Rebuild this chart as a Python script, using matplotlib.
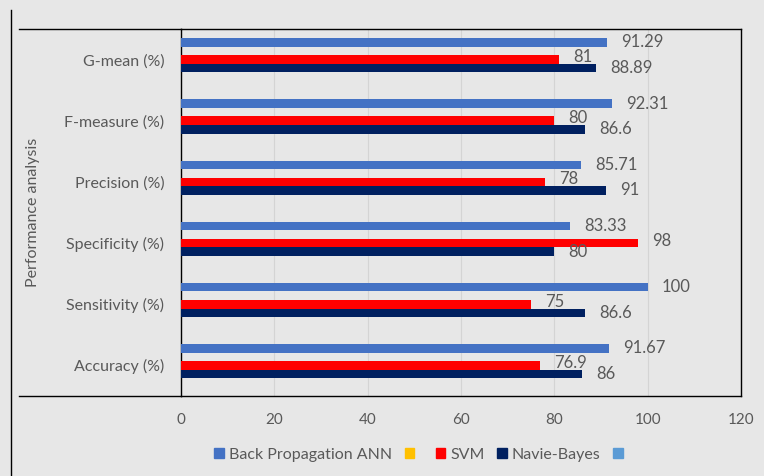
import matplotlib.pyplot as plt
import numpy as np
from matplotlib.lines import Line2D
from matplotlib.patches import Patch

plt.rcParams['font.family'] = ['Lato', 'DejaVu Sans']

categories = ['Accuracy (%)', 'Sensitivity (%)', 'Specificity (%)',
              'Precision (%)', 'F-measure (%)', 'G-mean (%)']
ann = [91.67, 100, 83.33, 85.71, 92.31, 91.29]
svm = [76.9, 75, 98, 78, 80, 81]
nb = [86, 86.6, 80, 91, 86.6, 88.89]
ann_lbl = ['91.67', '100', '83.33', '85.71', '92.31', '91.29']
svm_lbl = ['76.9', '75', '98', '78', '80', '81']
nb_lbl = ['86', '86.6', '80', '91', '86.6', '88.89']
xticks = [0, 20, 40, 60, 80, 100, 120]

bg = '#E7E7E7'
txt = '#595959'
c_ann = '#4472C4'
c_gold = '#FFC000'
c_svm = '#FF0000'
c_nb = '#002060'
c_lb = '#5B9BD5'

fig = plt.figure(figsize=(7.64, 4.76), dpi=100, facecolor=bg)
ax = fig.add_axes([181 / 764, 1 - 396 / 476, 560 / 764, 367 / 476])
ax.set_facecolor(bg)

y = np.arange(len(categories))
h = 0.14
# five slots per group, the gold and light-blue series are empty
ax.barh(y + 2 * h, ann, height=h, color=c_ann, zorder=3)
ax.barh(y, svm, height=h, color=c_svm, zorder=3)
ax.barh(y - h, nb, height=h, color=c_nb, zorder=3)

for i in range(len(categories)):
    ax.text(ann[i] + 3, y[i] + 2 * h, ann_lbl[i], va='center', ha='left',
            fontsize=12, color=txt, zorder=4)
    ax.text(svm[i] + 3, y[i] + 0.04, svm_lbl[i], va='center', ha='left',
            fontsize=12, color=txt, zorder=4)
    ax.text(nb[i] + 3, y[i] - h, nb_lbl[i], va='center', ha='left',
            fontsize=12, color=txt, zorder=4)

ax.set_xlim(0, 120)
ax.set_ylim(-0.5, len(categories) - 0.5)
ax.set_xticks(xticks)
ax.set_xticklabels([str(t) for t in xticks], fontsize=11, color=txt)
ax.set_yticks(y)
ax.set_yticklabels(categories, fontsize=11.5, color=txt)
ax.tick_params(axis='x', length=0, pad=12)
ax.tick_params(axis='y', length=0, pad=12)
ax.grid(axis='x', color='#D4D4D4', linewidth=0.8, zorder=0)
for s in ax.spines.values():
    s.set_color('black')
    s.set_linewidth(1.0)

# frame lines around the label column and the left edge
W, H = 764, 476
fig.add_artist(Line2D([19 / W, 181 / W], [1 - 29 / H, 1 - 29 / H], color='black', lw=1.0))
fig.add_artist(Line2D([19 / W, 181 / W], [1 - 396 / H, 1 - 396 / H], color='black', lw=1.0))
fig.add_artist(Line2D([11 / W, 11 / W], [0, 1 - 10 / H], color='black', lw=1.0))

fig.text(33 / W, 1 - 212 / H, 'Performance analysis', rotation=90,
         ha='center', va='center', fontsize=11.5, color=txt)

handles = [Patch(color=c_ann), Patch(color=c_gold), Patch(color=c_svm),
           Patch(color=c_nb), Patch(color=c_lb)]
labels = ['Back Propagation ANN', ' ', 'SVM', 'Navie-Bayes', ' ']
fig.legend(handles, labels, loc='center', bbox_to_anchor=(423 / W, 1 - 455 / H),
           ncol=5, frameon=False, fontsize=11.5, labelcolor=txt,
           handlelength=0.6, handleheight=0.6, handletextpad=0.3, columnspacing=0.8)

fig.savefig('out.png', dpi=100, facecolor=bg)
